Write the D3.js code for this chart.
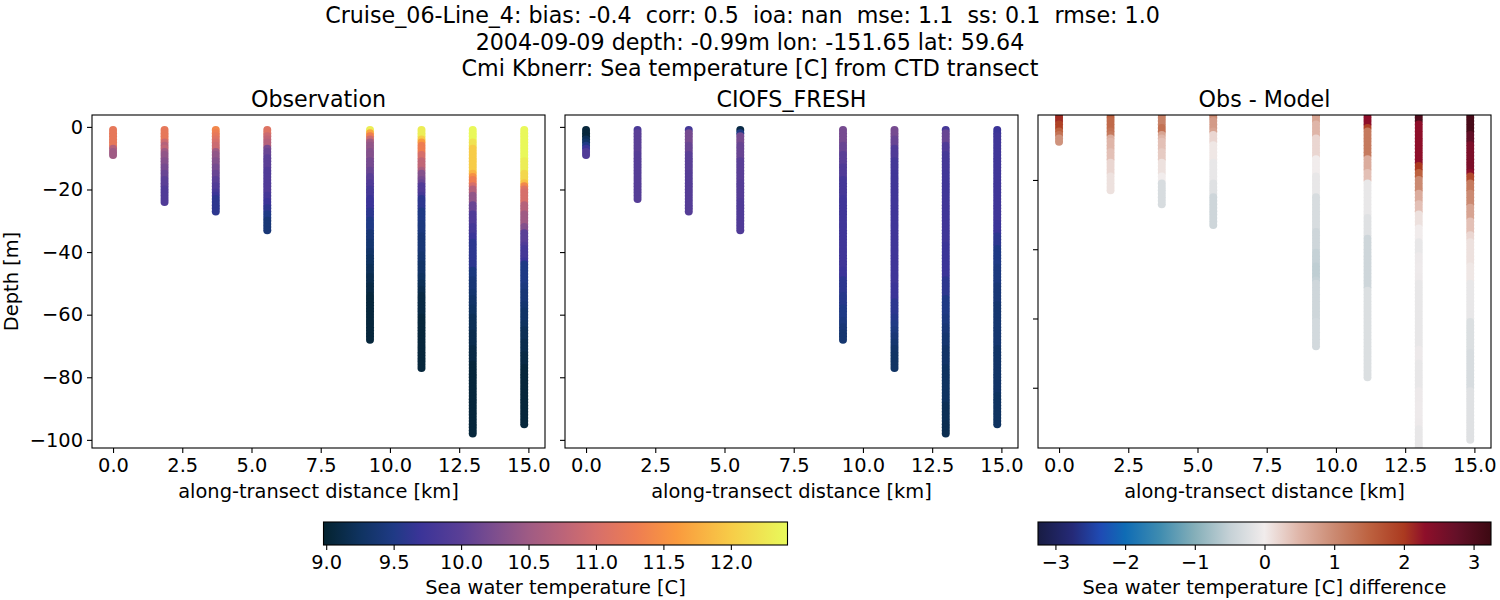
<!DOCTYPE html>
<html>
<head>
<meta charset="utf-8">
<script src="https://cdn.jsdelivr.net/npm/d3@7"></script>
<style>
  html, body { margin: 0; padding: 0; background: #fff; }
  svg text { font-family: "DejaVu Sans", sans-serif; fill: #000; }
</style>
</head>
<body>
<div id="svgdiv"></div>
<script>
const stationKm = [0, 1.86, 3.71, 5.57, 9.28, 11.14, 12.99, 14.85];

const depthBins = [
  -1,-2,-3,-4,-5,-6,-7,-8,-9,-10,-11,-12,-13,-14,-15,-16,-17,-18,-19,-20,
  -21,-22,-23,-24,-25,-26,-27,-28,-29,-30,-31,-32,-33,-34,-35,-36,-37,-38,-39,-40,
  -41,-42,-43,-44,-45,-46,-47,-48,-49,-50,-51,-52,-53,-54,-55,-56,-57,-58,-59,-60,
  -61,-62,-63,-64,-65,-66,-67,-68,-69,-70,-71,-72,-73,-74,-75,-76,-77,-78,-79,-80,
  -81,-82,-83,-84,-85,-86,-87,-88,-89,-90,-91,-92,-93,-94,-95,-96,-97,-98
];

// one list per station, top to bottom, 1 m bins
const obsTemp = [
  [11.2,11.2,11.2,11.2,11.2,11.2,10.7,10.5,10.5],
  [11.2,11.2,11.2,11.2,10.9,10.7,10.8,10.5,10.4,10.4,10.3,10.3,10.2,10.2,10.1,10.1,10.0,10.0,10.0,9.9,9.9,9.9,9.9,9.9],
  [11.4,11.3,11.2,11.1,11.0,10.9,10.9,10.5,10.4,10.4,10.3,10.3,10.2,10.2,10.1,10.1,10.0,10.0,9.9,9.9,9.8,9.7,9.6,9.6,9.6,9.6,9.6],
  [11.1,11.1,10.9,10.8,10.7,10.7,10.2,10.1,10.1,10.0,10.0,10.0,10.0,9.9,9.9,9.9,9.9,9.9,9.9,9.9,9.9,9.8,9.8,9.7,9.7,9.6,9.6,9.5,9.5,9.4,9.4,9.4,9.4],
  [12.3,11.7,11.3,10.9,10.5,10.4,10.4,10.3,10.3,10.3,10.2,10.2,10.2,10.1,10.1,10.0,10.0,9.9,9.9,9.8,
   9.8,9.8,9.7,9.7,9.7,9.7,9.6,9.6,9.6,9.5,9.5,9.5,9.5,9.4,9.4,9.4,9.35,9.35,9.35,9.3,
   9.3,9.25,9.25,9.25,9.2,9.2,9.2,9.15,9.15,9.15,9.1,9.1,9.1,9.05,9.05,9.05,9.05,9.05,9.05,9.05,
   9.05,9.05,9.05,9.05,9.05,9.05,9.05,9.05],
  [12.3,12.3,12.3,12.0,11.6,11.3,11.3,11.3,11.0,11.0,10.8,10.8,10.8,10.6,10.3,10.3,10.2,10.1,9.9,9.9,
   9.9,9.8,9.6,9.6,9.6,9.6,9.5,9.5,9.5,9.5,9.45,9.45,9.45,9.45,9.4,9.4,9.4,9.4,9.4,9.4,
   9.35,9.35,9.35,9.3,9.3,9.3,9.3,9.25,9.25,9.2,9.2,9.15,9.15,9.1,9.1,9.1,9.1,9.1,9.1,9.1,
   9.05,9.05,9.05,9.05,9.05,9.05,9.05,9.05,9.05,9.05,9.05,9.05,9.05,9.05,9.05,9.05,9.05],
  [12.4,12.4,12.4,12.4,12.2,12.2,12.0,12.0,12.0,12.0,12.0,12.0,12.0,12.0,11.8,11.5,11.3,11.3,11.0,10.7,
   10.7,10.4,10.4,10.4,10.1,10.1,10.1,9.9,9.9,9.9,9.9,9.8,9.8,9.8,9.7,9.7,9.6,9.6,9.6,9.6,
   9.6,9.6,9.6,9.6,9.6,9.45,9.45,9.45,9.4,9.4,9.4,9.4,9.35,9.35,9.3,9.3,9.3,9.25,9.25,9.25,
   9.2,9.2,9.2,9.2,9.2,9.15,9.15,9.15,9.15,9.15,9.1,9.1,9.1,9.1,9.1,9.05,9.05,9.05,9.05,9.05,
   9.05,9.05,9.05,9.05,9.05,9.05,9.05,9.05,9.05,9.05,9.05,9.05,9.05,9.05,9.05,9.05,9.05,9.05],
  [12.4,12.4,12.4,12.4,12.4,12.4,12.4,12.4,12.4,12.4,12.3,12.3,12.3,12.3,12.1,12.1,12.1,11.9,11.4,11.1,
   11.0,11.0,11.0,11.0,10.7,10.7,10.7,10.5,10.5,10.5,10.5,10.3,10.3,10.0,10.0,10.0,10.0,9.9,9.8,9.8,
   9.8,9.8,9.7,9.5,9.5,9.5,9.5,9.5,9.5,9.5,9.45,9.45,9.4,9.4,9.4,9.4,9.35,9.35,9.3,9.3,
   9.3,9.3,9.25,9.25,9.2,9.2,9.2,9.2,9.15,9.15,9.15,9.15,9.1,9.1,9.1,9.1,9.05,9.05,9.05,9.05,
   9.05,9.05,9.05,9.05,9.05,9.05,9.05,9.05,9.05,9.05,9.05,9.05,9.05,9.05,9.05]
];

const modelTemp = [
  [9.05,9.05,9.05,9.2,9.3,9.5,9.7,9.9,9.9],
  [9.85,10.0,10.0,10.0,10.0,10.0,10.0,10.0,9.95,9.95,9.95,9.95,9.95,9.95,9.95,9.95,9.95,9.95,9.95,9.95,9.95,9.95,9.95],
  [9.8,10.2,10.2,10.2,10.2,10.1,10.1,10.1,10.0,10.0,10.0,10.0,10.0,10.0,9.95,9.95,9.95,9.95,9.95,9.95,9.95,9.95,9.95,9.95,9.95,9.95,9.95],
  [9.1,9.5,10.2,10.2,10.2,10.1,10.1,10.1,10.1,10.1,10.0,10.0,10.0,10.0,10.0,10.0,10.0,9.95,9.95,9.95,9.95,9.95,9.95,9.9,9.9,9.9,9.9,9.9,9.9,9.9,9.9,9.9,9.9],
  [10.2,10.2,10.2,10.2,10.2,10.1,10.1,10.1,10.0,10.0,10.0,10.0,9.9,9.9,9.9,9.9,9.8,9.8,9.8,9.8,
   9.8,9.8,9.75,9.75,9.75,9.75,9.75,9.75,9.75,9.75,9.75,9.75,9.75,9.75,9.75,9.75,9.75,9.75,9.75,9.75,
   9.75,9.75,9.75,9.75,9.75,9.7,9.7,9.7,9.6,9.6,9.6,9.6,9.6,9.55,9.55,9.55,9.55,9.5,9.5,9.5,
   9.5,9.45,9.45,9.4,9.4,9.35,9.35,9.35],
  [10.2,10.2,10.2,10.1,10.1,10.1,9.9,9.9,9.9,9.9,9.8,9.8,9.8,9.8,9.75,9.75,9.75,9.75,9.75,9.75,
   9.75,9.75,9.75,9.75,9.75,9.75,9.75,9.75,9.75,9.75,9.75,9.75,9.75,9.75,9.75,9.75,9.75,9.75,9.75,9.75,
   9.75,9.75,9.75,9.75,9.75,9.75,9.75,9.75,9.75,9.75,9.7,9.7,9.7,9.7,9.7,9.6,9.6,9.6,9.6,9.6,
   9.55,9.55,9.5,9.5,9.45,9.45,9.4,9.4,9.35,9.35,9.3,9.3,9.28,9.28,9.28,9.28,9.28],
  [9.8,10.1,10.1,10.1,10.1,9.9,9.9,9.9,9.8,9.8,9.8,9.8,9.8,9.8,9.75,9.75,9.75,9.75,9.75,9.75,
   9.75,9.75,9.75,9.75,9.75,9.75,9.75,9.75,9.75,9.75,9.75,9.75,9.75,9.75,9.75,9.75,9.75,9.7,9.7,9.7,
   9.7,9.7,9.7,9.7,9.7,9.7,9.7,9.7,9.6,9.6,9.6,9.6,9.6,9.6,9.5,9.5,9.5,9.5,9.5,9.5,
   9.45,9.45,9.45,9.4,9.4,9.4,9.35,9.35,9.35,9.35,9.3,9.3,9.3,9.3,9.3,9.3,9.25,9.25,9.25,9.25,
   9.25,9.25,9.25,9.25,9.25,9.25,9.25,9.25,9.2,9.2,9.2,9.2,9.2,9.2,9.17,9.17,9.17,9.17],
  [9.7,9.7,9.75,9.75,9.75,9.75,9.75,9.75,9.75,9.75,9.75,9.75,9.75,9.75,9.75,9.75,9.75,9.75,9.75,9.75,
   9.75,9.75,9.75,9.75,9.75,9.75,9.75,9.75,9.75,9.75,9.7,9.7,9.7,9.7,9.6,9.6,9.6,9.6,9.5,9.5,
   9.5,9.5,9.5,9.5,9.45,9.45,9.45,9.45,9.45,9.45,9.4,9.4,9.4,9.4,9.4,9.4,9.35,9.35,9.35,9.35,
   9.35,9.35,9.35,9.35,9.35,9.35,9.35,9.35,9.35,9.35,9.3,9.3,9.3,9.3,9.3,9.3,9.3,9.3,9.3,9.3,
   9.3,9.3,9.3,9.3,9.3,9.25,9.25,9.25,9.25,9.25,9.25,9.25,9.25,9.25,9.25]
];

const diffTemp = [
  [2.1,2.1,2.1,1.9,1.9,1.5,1.3,0.9,0.9],
  [1.5,1.5,1.4,1.4,1.4,1.3,1.2,0.6,0.5,0.5,0.5,0.4,0.4,0.4,0.2,0.2,0.2,0.2,0.1,0.1,0.1,0.1,0.1],
  [1.5,1.1,1.1,1.1,1.3,1.3,0.7,0.5,0.4,0.4,0.4,0.3,0.3,0.3,0.1,0.1,0.1,0.1,0.0,0.0,-0.3,-0.3,-0.3,-0.3,-0.3,-0.3,-0.3],
  [1.8,1.0,0.8,0.8,0.8,0.7,0.2,0.2,0.2,0.05,0.05,0.05,0.05,0.05,-0.1,-0.1,-0.1,-0.1,-0.1,-0.1,-0.2,-0.2,-0.2,-0.2,-0.4,-0.4,-0.4,-0.4,-0.4,-0.4,-0.4,-0.4,-0.4],
  [1.8,0.7,0.7,0.5,0.5,0.5,0.5,0.2,0.2,0.2,0.2,0.2,0.2,0.0,0.0,0.0,0.0,0.0,-0.1,-0.1,
   -0.1,-0.1,-0.1,-0.1,-0.3,-0.3,-0.3,-0.3,-0.3,-0.3,-0.3,-0.3,-0.3,-0.3,-0.4,-0.4,-0.4,-0.4,-0.4,-0.4,
   -0.5,-0.5,-0.5,-0.5,-0.55,-0.55,-0.55,-0.55,-0.5,-0.4,-0.4,-0.4,-0.4,-0.4,-0.4,-0.4,-0.4,-0.4,-0.4,-0.4,
   -0.35,-0.35,-0.35,-0.35,-0.35,-0.35,-0.35,-0.35],
  [2.3,2.3,2.3,2.3,1.9,1.2,1.2,1.2,1.2,1.2,1.2,1.2,1.2,0.6,0.6,0.6,0.6,0.4,0.4,0.4,
   -0.1,-0.1,-0.1,-0.1,-0.1,-0.1,-0.1,-0.1,-0.1,-0.1,-0.2,-0.2,-0.2,-0.2,-0.2,-0.2,-0.4,-0.4,-0.4,-0.4,
   -0.4,-0.4,-0.4,-0.4,-0.4,-0.4,-0.4,-0.4,-0.4,-0.4,-0.4,-0.25,-0.25,-0.25,-0.25,-0.25,-0.25,-0.25,-0.25,-0.25,
   -0.25,-0.25,-0.25,-0.25,-0.25,-0.25,-0.25,-0.25,-0.25,-0.25,-0.25,-0.25,-0.25,-0.25,-0.25,-0.25,-0.25],
  [3.0,3.0,3.0,2.3,2.3,2.3,2.3,2.3,2.3,2.3,2.3,2.3,2.3,2.3,2.3,2.0,2.0,1.5,1.5,1.0,
   1.0,1.0,1.0,0.6,0.6,0.6,0.4,0.4,0.4,0.1,0.1,0.1,0.1,0.0,0.0,0.0,0.0,-0.1,-0.1,-0.1,
   -0.1,-0.05,-0.05,-0.05,-0.03,-0.03,-0.03,-0.05,-0.05,-0.1,-0.1,-0.1,-0.1,-0.1,-0.1,-0.1,-0.1,-0.1,-0.1,-0.1,
   -0.1,-0.1,-0.1,-0.1,-0.1,-0.1,-0.1,-0.1,-0.05,-0.05,-0.05,-0.05,-0.1,-0.1,-0.1,-0.1,-0.1,-0.1,-0.1,-0.1,
   -0.05,-0.05,-0.05,-0.05,-0.03,-0.03,-0.03,-0.03,-0.03,-0.05,-0.05,-0.1,-0.1,-0.1,-0.1,-0.1,-0.1,-0.1],
  [3.1,3.1,3.1,3.1,3.1,3.1,2.8,2.8,2.8,2.5,2.5,2.5,2.5,2.5,2.5,2.5,2.5,2.3,1.8,1.8,
   1.2,1.2,1.2,1.0,1.0,1.0,1.0,0.7,0.7,0.7,0.7,0.4,0.4,0.4,0.4,0.2,0.2,0.1,0.1,0.1,
   0.1,0.1,0.1,0.1,0.05,0.05,0.05,0.05,0.05,-0.1,-0.1,-0.1,-0.1,-0.1,-0.1,-0.1,-0.1,-0.1,-0.1,-0.1,
   -0.25,-0.25,-0.25,-0.25,-0.25,-0.25,-0.25,-0.25,-0.25,-0.3,-0.3,-0.3,-0.3,-0.3,-0.3,-0.3,-0.3,-0.3,-0.3,-0.3,
   -0.2,-0.2,-0.2,-0.2,-0.2,-0.2,-0.2,-0.2,-0.2,-0.2,-0.2,-0.2,-0.2,-0.2,-0.2]
];

// colormap stops
const thermalValues = [8.98, 9.25, 9.5, 9.7, 10.0, 10.25, 10.5, 10.75, 11.0, 11.3, 11.6, 12.0, 12.42];
const thermalColors = ["#04232f", "#0f3360", "#1f3a85", "#3b3498", "#5a3f96", "#7d4e8e", "#9f5b84", "#bb6479", "#d66f6b", "#ee7d52", "#fa9a3e", "#f7cc48", "#e8fa5b"];
const balanceValues = [-3.25, -2.75, -2.35, -2.0, -1.5, -1.0, -0.5, 0, 0.5, 1.0, 1.5, 2.0, 2.3, 2.75, 3.25];
const balanceColors = ["#181c43", "#252a78", "#1f4bb4", "#0f6cb5", "#3f8cb0", "#85afb9", "#c5d1d6", "#f1ecec", "#dfb5a8", "#cb8a72", "#bd6240", "#ab3a20", "#8e0f2a", "#651028", "#3c0912"];

const xTicks = [0, 2.5, 5, 7.5, 10, 12.5, 15];
const yTicks = [0, -20, -40, -60, -80, -100];
const thermalTicks = [9, 9.5, 10, 10.5, 11, 11.5, 12];
const balanceTicks = [-3, -2, -1, 0, 1, 2, 3];

const titleLines = [
  "Cruise_06-Line_4: bias: -0.4  corr: 0.5  ioa: nan  mse: 1.1  ss: 0.1  rmse: 1.0",
  "2004-09-09 depth: -0.99m lon: -151.65 lat: 59.64",
  "Cmi Kbnerr: Sea temperature [C] from CTD transect"
];

const width = 1500, height = 600;
const TICK_FONT = 19.4, LABEL_FONT = 19.4, TITLE_FONT = 22.2;
const plotTop = 115, plotBottom = 448;

const svg = d3.select("#svgdiv")
  .append("svg")
  .attr("width", width)
  .attr("height", height)
  .attr("viewBox", [0, 0, width, height])
  .style("display", "block");

const tempColor = d3.scaleLinear().domain(thermalValues).range(thermalColors).clamp(true);
const diffColor = d3.scaleLinear().domain(balanceValues).range(balanceColors).clamp(true);

// the first line sits a little left of the other two in the original
svg.selectAll("text.suptitle")
  .data(titleLines)
  .enter()
  .append("text")
  .attr("class", "suptitle")
  .attr("x", (d, i) => i === 0 ? 742.5 : 750)
  .attr("y", (d, i) => 23 + i * 26.7)
  .attr("text-anchor", "middle")
  .style("font-size", TITLE_FONT + "px")
  .style("white-space", "pre")
  .attr("xml:space", "preserve")
  .text(d => d);

function styleAxis(g) {
  g.selectAll("line").attr("stroke", "#000").attr("stroke-width", 1.1);
  g.selectAll("text").style("font-size", TICK_FONT + "px");
}

// one panel of the transect
function drawPanel(id, left, right, title, series, color, yDomain, showY) {
  const x = d3.scaleLinear().domain([-0.76, 15.6]).range([left, right]);
  const y = d3.scaleLinear().domain(yDomain).range([plotTop, plotBottom]);

  svg.append("clipPath").attr("id", id)
    .append("rect")
    .attr("x", left).attr("y", plotTop)
    .attr("width", right - left).attr("height", plotBottom - plotTop);

  const dots = svg.append("g").attr("clip-path", `url(#${id})`);
  series.forEach((temps, s) => {
    dots.append("g")
      .selectAll("circle")
      .data(temps)
      .enter()
      .append("circle")
      .attr("cx", x(stationKm[s]))
      .attr("cy", (d, i) => y(depthBins[i]))
      .attr("r", 4)
      .style("fill", d => color(d));
  });

  svg.append("rect")
    .attr("x", left).attr("y", plotTop)
    .attr("width", right - left).attr("height", plotBottom - plotTop)
    .attr("fill", "none").attr("stroke", "#000").attr("stroke-width", 1.1);

  svg.append("g")
    .attr("transform", `translate(0,${plotBottom})`)
    .call(d3.axisBottom(x).tickValues(xTicks).tickFormat(d3.format(".1f")).tickSize(5).tickPadding(5))
    .call(styleAxis)
    .call(g => g.select(".domain").remove());

  // only ticks inside this panel's depth range
  const shownTicks = yTicks.filter(t => t <= yDomain[0] && t >= yDomain[1]);
  const yAxis = d3.axisLeft(y).tickValues(shownTicks).tickSize(5).tickPadding(4);
  if (!showY) yAxis.tickFormat("");
  svg.append("g")
    .attr("transform", `translate(${left},0)`)
    .call(yAxis)
    .call(styleAxis)
    .call(g => g.select(".domain").remove());

  svg.append("text")
    .attr("x", (left + right) / 2).attr("y", 107)
    .attr("text-anchor", "middle")
    .style("font-size", TITLE_FONT + "px")
    .text(title);

  svg.append("text")
    .attr("x", (left + right) / 2).attr("y", 498)
    .attr("text-anchor", "middle")
    .style("font-size", LABEL_FONT + "px")
    .text("along-transect distance [km]");
}

drawPanel("clip1", 92, 545, "Observation", obsTemp, tempColor, [3.8, -102.6], true);
drawPanel("clip2", 565, 1018, "CIOFS_FRESH", modelTemp, tempColor, [3.8, -102.6], false);
drawPanel("clip3", 1038, 1491, "Obs - Model", diffTemp, diffColor, [-1.24, -97.4], false);

svg.append("text")
  .attr("transform", "translate(18,281.5) rotate(-90)")
  .attr("text-anchor", "middle")
  .style("font-size", LABEL_FONT + "px")
  .text("Depth [m]");

// horizontal colorbar with a gradient built from the stops
function drawColorbar(id, left, right, values, colors, ticks, format, label) {
  const barTop = 522, barBottom = 545;
  const x = d3.scaleLinear().domain([values[0], values[values.length - 1]]).range([left, right]);

  const grad = svg.append("linearGradient").attr("id", id);
  grad.selectAll("stop")
    .data(values)
    .enter()
    .append("stop")
    .attr("offset", d => (x(d) - left) / (right - left))
    .attr("stop-color", (d, i) => colors[i]);

  svg.append("rect")
    .attr("x", left).attr("y", barTop)
    .attr("width", right - left).attr("height", barBottom - barTop)
    .attr("fill", `url(#${id})`)
    .attr("stroke", "#000").attr("stroke-width", 1.1);

  svg.append("g")
    .attr("transform", `translate(0,${barBottom})`)
    .call(d3.axisBottom(x).tickValues(ticks).tickFormat(format).tickSize(5).tickPadding(5))
    .call(styleAxis)
    .call(g => g.select(".domain").remove());

  svg.append("text")
    .attr("x", (left + right) / 2).attr("y", 594)
    .attr("text-anchor", "middle")
    .style("font-size", LABEL_FONT + "px")
    .text(label);
}

drawColorbar("thermal", 323.5, 787.5, thermalValues, thermalColors, thermalTicks, d3.format(".1f"), "Sea water temperature [C]");
drawColorbar("balance", 1038, 1491, balanceValues, balanceColors, balanceTicks, d3.format("d"), "Sea water temperature [C] difference");
</script>
</body>
</html>
